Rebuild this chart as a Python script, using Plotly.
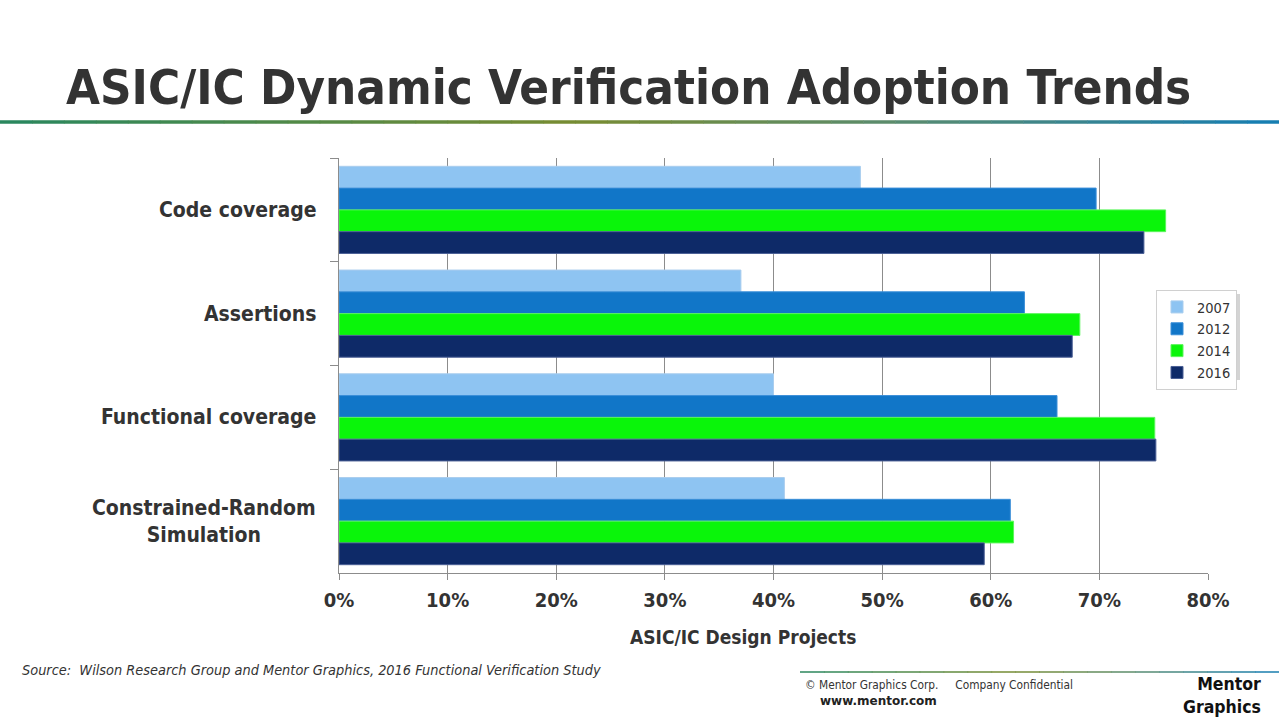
import plotly.graph_objects as go

# data
categories = ["Code coverage", "Assertions", "Functional coverage", "Constrained-Random Simulation"]
category_labels = ["Code coverage", "Assertions", "Functional coverage", "Constrained-Random<br>Simulation"]
years = ["2007", "2012", "2014", "2016"]
values_2007 = [48, 37, 40, 41]
values_2012 = [69.7, 63.1, 66.1, 61.8]
values_2014 = [76.1, 68.2, 75.1, 62.1]
values_2016 = [74.1, 67.5, 75.2, 59.4]
series_values = [values_2007, values_2012, values_2014, values_2016]
tick_values = [0, 10, 20, 30, 40, 50, 60, 70, 80]
tick_labels = ["0%", "10%", "20%", "30%", "40%", "50%", "60%", "70%", "80%"]

fill_colors = ["#8ec4f2", "#1176c8", "#0af50a", "#0e2a68"]
line_colors = ["#a9cdee", "#3a8ed8", "#5cf55c", "#4a5f95"]

W, H = 1279, 720
L, R, T, B = 339, 1208, 158, 573
FONT = "DejaVu Sans Condensed, DejaVu Sans"


def px(x):
    return (x - L) / (R - L)


def py(y):
    return (B - y) / (B - T)


fig = go.Figure()
for name, vals, fc, lc in zip(years, series_values, fill_colors, line_colors):
    fig.add_trace(go.Bar(
        y=categories, x=vals, name=name, orientation="h",
        marker=dict(color=fc, line=dict(color=lc, width=1)),
    ))

label_font = dict(family=FONT, size=21, color="#333333")

# category labels (centered multi-line like the original)
annotations = []
for cat, lab in zip(categories, category_labels):
    annotations.append(dict(
        x=px(318), xref="paper", y=cat, yref="y", text="<b>%s</b>" % lab,
        showarrow=False, xanchor="right", align="center", font=label_font,
    ))

annotations += [
    dict(x=px(64), y=py(87), xref="paper", yref="paper", xanchor="left", yanchor="middle",
         text="<b>ASIC/IC Dynamic Verification Adoption Trends</b>", showarrow=False,
         font=dict(family=FONT, size=48.8, color="#333333")),
    dict(x=px(743), y=py(637), xref="paper", yref="paper", xanchor="center", yanchor="middle",
         text="<b>ASIC/IC Design Projects</b>", showarrow=False,
         font=dict(family=FONT, size=19, color="#333333")),
    dict(x=px(20), y=py(670), xref="paper", yref="paper", xanchor="left", yanchor="middle",
         text="<i>Source:  Wilson Research Group and Mentor Graphics, 2016 Functional Verification Study</i>",
         showarrow=False,
         font=dict(family=FONT, size=14.4, color="#333333")),
    dict(x=px(803), y=py(685), xref="paper", yref="paper", xanchor="left", yanchor="middle",
         text="© Mentor Graphics Corp.     Company Confidential", showarrow=False,
         font=dict(family=FONT, size=11.8, color="#333333")),
    dict(x=px(818), y=py(701), xref="paper", yref="paper", xanchor="left", yanchor="middle",
         text="<b>www.mentor.com</b>", showarrow=False,
         font=dict(family="DejaVu Sans, Verdana", size=12, color="#222222")),
    dict(x=px(1263), y=py(695), xref="paper", yref="paper", xanchor="right", yanchor="middle",
         text="<b>Mentor<br>Graphics</b>", showarrow=False, align="right",
         font=dict(family=FONT, size=17.5, color="#111111")),
]

# gradient rules (title rule and footer rule)
shapes = []


def gradient_rule(x0, x1, y, width, stops, n=40):
    seg = (x1 - x0) / n
    for i in range(n):
        t = (i + 0.5) / n
        for (t0, c0), (t1, c1) in zip(stops[:-1], stops[1:]):
            if t0 <= t <= t1:
                f = (t - t0) / (t1 - t0)
                c = [round(c0[k] + (c1[k] - c0[k]) * f) for k in range(3)]
                break
        shapes.append(dict(type="line", xref="paper", yref="paper",
                           x0=px(x0 + i * seg), x1=px(x0 + (i + 1) * seg + 0.5),
                           y0=py(y), y1=py(y),
                           line=dict(color="rgb(%d,%d,%d)" % tuple(c), width=width)))


stops = [(0.0, (40, 135, 95)), (0.45, (120, 140, 50)), (0.7, (90, 140, 110)), (1.0, (20, 125, 180))]
gradient_rule(0, W, 122, 3.5, stops)
gradient_rule(800, W, 672, 1.5, stops, n=20)

# legend shadow
shapes.append(dict(type="rect", xref="paper", yref="paper",
                   x0=px(1160), x1=px(1240), y0=py(380), y1=py(294),
                   fillcolor="#d4d4d4", line=dict(width=0), layer="below"))

fig.update_layout(
    width=W, height=H,
    margin=dict(l=L, r=W - R, t=T, b=H - B),
    paper_bgcolor="white", plot_bgcolor="white",
    barmode="group", bargap=0.16, bargroupgap=0,
    showlegend=True,
    legend=dict(x=px(1156), y=py(290), xanchor="left", yanchor="top",
                bgcolor="white", bordercolor="#d0d0d0", borderwidth=1,
                font=dict(family=FONT, size=14.5, color="#333333"),
                itemwidth=30, tracegroupgap=0),
    xaxis=dict(range=[0, 80], tickvals=tick_values, ticktext=tick_labels,
               showgrid=True, gridcolor="#8c8c8c", gridwidth=1,
               showline=True, linecolor="#8c8c8c", linewidth=1,
               ticks="outside", ticklen=6, tickcolor="#8c8c8c",
               tickfont=dict(family=FONT, size=20, color="#333333", weight="bold"),
               ticklabelstandoff=3, zeroline=False, fixedrange=True),
    yaxis=dict(autorange="reversed", showticklabels=False,
               showline=True, linecolor="#8c8c8c", linewidth=1,
               ticks="outside", ticklen=8, tickcolor="#8c8c8c", tickson="boundaries",
               showgrid=False, fixedrange=True),
    annotations=annotations,
    shapes=shapes,
)

fig.write_html("out.html", config={"displayModeBar": False},
               post_script="document.body.style.margin='0';")
